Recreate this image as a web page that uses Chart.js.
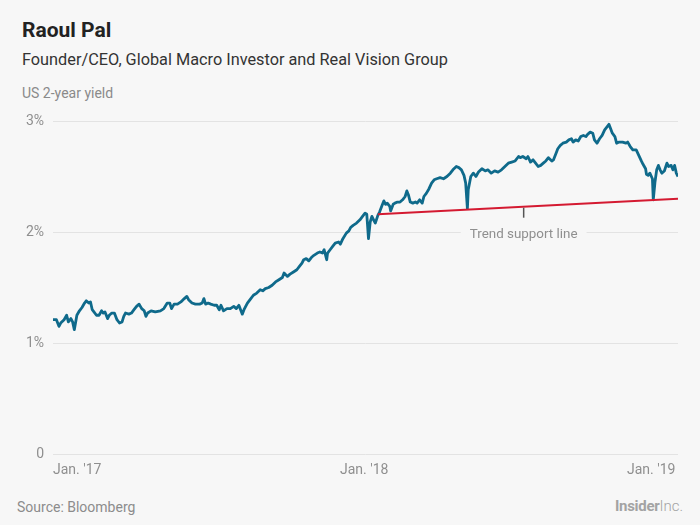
<!DOCTYPE html>
<html>
<head>
<meta charset="utf-8">
<script src="https://cdn.jsdelivr.net/npm/chart.js@4.4.1/dist/chart.umd.min.js"></script>
<style>
  html, body { margin: 0; padding: 0; }
  body {
    width: 700px; height: 525px; overflow: hidden;
    background: #f7f7f7; position: relative;
    font-family: Roboto, "Noto Sans", sans-serif;
  }
  .txt { position: absolute; white-space: nowrap; }
  #title    { left: 22px; top: 20px; font-size: 21px; line-height: 21px; font-weight: 700; color: #222; }
  #subtitle { left: 22px; top: 51px; font-size: 16.3px; line-height: 17px; color: #333; }
  #unit     { left: 22px; top: 86px; font-size: 14px; line-height: 14px; color: #8a8a8a; }
  #source   { left: 17px; top: 500px; font-size: 14px; line-height: 14px; color: #8c8c8c; }
  #brand    { right: 17px; top: 499px; font-size: 15px; line-height: 15px; color: #a3a3a3; }
  #brand b  { font-weight: 700; letter-spacing: -0.3px; }
  #brand span { font-weight: 300; }
  #wrap { position: absolute; left: 0; top: 0; width: 700px; height: 525px; }
</style>
</head>
<body>
<div class="txt" id="title">Raoul Pal</div>
<div class="txt" id="subtitle">Founder/CEO, Global Macro Investor and Real Vision Group</div>
<div class="txt" id="unit">US 2-year yield</div>
<div class="txt" id="source">Source: Bloomberg</div>
<div class="txt" id="brand"><b>Insider</b><span>Inc.</span></div>
<div id="wrap"><canvas id="chart"></canvas></div>

<script>
// ── data: days since Jan. 1 2017, US 2-year yield (%) ─────────────
const DAYS = [
  0, 4, 7, 9, 13, 16, 18, 21, 23, 25, 28, 31, 34, 37, 39, 42, 44, 46, 48, 51,
  54, 57, 59, 61, 64, 66, 69, 72, 75, 78, 81, 83, 85, 89, 92, 95, 98, 101, 104, 107,
  109, 111, 115, 120, 126, 130, 134, 137, 139, 142, 146, 150, 154, 157, 159, 163, 167, 172, 175, 177,
  179, 182, 185, 189, 192, 195, 197, 200, 204, 208, 212, 215, 218, 220, 222, 224, 228, 232, 235, 239,
  243, 246, 249, 253, 257, 261, 265, 269, 271, 275, 278, 282, 286, 289, 292, 294, 297, 300, 303, 306,
  310, 313, 316, 318, 321, 322, 325, 328, 331, 335, 337, 340, 344, 347, 349, 352, 356, 360, 363, 366,
  368, 370, 372, 374, 376, 378, 381, 383, 386, 388, 390, 392, 395, 396, 399, 401, 404, 407, 410, 413,
  415, 417, 419, 422, 425, 427, 430, 433, 435, 438, 441, 444, 447, 450, 454, 458, 462, 466, 469, 473,
  476, 479, 482, 484, 486, 487, 490, 493, 496, 499, 503, 507, 510, 514, 518, 522, 526, 530, 534, 538,
  542, 546, 548, 551, 555, 557, 560, 563, 566, 569, 572, 575, 578, 581, 585, 587, 590, 592, 595, 598,
  602, 605, 608, 610, 613, 616, 619, 622, 625, 627, 630, 633, 635, 638, 641, 644, 647, 650, 652, 654,
  656, 659, 661, 664, 668, 672, 674, 677, 680, 684, 687, 690, 692, 695, 696, 698, 700, 703, 704, 706,
  708, 710, 712, 714, 717, 720, 722, 725, 727, 729, 731, 733
];
const YIELD = [
  1.21, 1.21, 1.15, 1.18, 1.21, 1.25, 1.19, 1.22, 1.19, 1.12, 1.25, 1.29, 1.32, 1.36, 1.38, 1.36, 1.37, 1.30, 1.28, 1.25,
  1.25, 1.29, 1.27, 1.28, 1.22, 1.25, 1.27, 1.27, 1.21, 1.18, 1.19, 1.24, 1.27, 1.26, 1.27, 1.30, 1.33, 1.35, 1.31, 1.29,
  1.24, 1.27, 1.29, 1.28, 1.29, 1.31, 1.36, 1.36, 1.31, 1.35, 1.35, 1.37, 1.40, 1.42, 1.39, 1.36, 1.35, 1.35, 1.36, 1.40,
  1.35, 1.36, 1.35, 1.34, 1.34, 1.30, 1.34, 1.29, 1.31, 1.31, 1.33, 1.31, 1.34, 1.30, 1.26, 1.30, 1.36, 1.40, 1.43, 1.45,
  1.48, 1.47, 1.49, 1.50, 1.52, 1.55, 1.57, 1.59, 1.63, 1.60, 1.62, 1.64, 1.66, 1.69, 1.72, 1.75, 1.76, 1.74, 1.77, 1.79,
  1.81, 1.82, 1.81, 1.84, 1.75, 1.81, 1.84, 1.87, 1.90, 1.91, 1.89, 1.94, 1.99, 2.01, 2.04, 2.06, 2.08, 2.11, 2.14, 2.17,
  2.16, 1.94, 2.09, 2.14, 2.11, 2.08, 2.15, 2.18, 2.24, 2.28, 2.25, 2.26, 2.23, 2.19, 2.25, 2.26, 2.27, 2.27, 2.29, 2.32,
  2.37, 2.33, 2.27, 2.26, 2.27, 2.26, 2.29, 2.26, 2.32, 2.35, 2.39, 2.44, 2.47, 2.48, 2.49, 2.48, 2.50, 2.53, 2.56, 2.59,
  2.58, 2.56, 2.51, 2.44, 2.21, 2.38, 2.50, 2.53, 2.50, 2.54, 2.57, 2.55, 2.56, 2.53, 2.55, 2.54, 2.56, 2.59, 2.62, 2.63,
  2.64, 2.68, 2.67, 2.68, 2.66, 2.68, 2.63, 2.65, 2.62, 2.59, 2.60, 2.62, 2.64, 2.67, 2.64, 2.65, 2.71, 2.75, 2.78, 2.80,
  2.81, 2.83, 2.84, 2.81, 2.83, 2.82, 2.86, 2.87, 2.86, 2.88, 2.90, 2.89, 2.83, 2.80, 2.84, 2.87, 2.92, 2.95, 2.97, 2.93,
  2.89, 2.86, 2.80, 2.81, 2.81, 2.80, 2.81, 2.77, 2.74, 2.74, 2.69, 2.64, 2.61, 2.57, 2.52, 2.51, 2.53, 2.48, 2.29, 2.45,
  2.56, 2.60, 2.56, 2.53, 2.55, 2.62, 2.59, 2.60, 2.56, 2.60, 2.53, 2.50
];

// trend support line (two anchor points)
const TREND_DAYS   = [381, 733];
const TREND_VALUES = [2.16, 2.30];
const TREND_LABEL  = 'Trend support line';
const TREND_LABEL_DAY = 552;

// axis ticks
const X_TICK_DAYS   = [0, 365, 730];
const X_TICK_LABELS = ["Jan. '17", "Jan. '18", "Jan. '19"];
const Y_TICKS       = [0, 1, 2, 3];
const Y_TICK_LABELS = ['0', '1%', '2%', '3%'];

const BG = '#f7f7f7';
const TICK_COLOR = '#8f8f8f';

// ── annotation: small tick under the red line + label ────────────
const trendLabel = {
  id: 'trendLabel',
  afterDatasetsDraw(chart) {
    const { ctx, scales: { x, y } } = chart;
    const t = (TREND_LABEL_DAY - TREND_DAYS[0]) / (TREND_DAYS[1] - TREND_DAYS[0]);
    const v = TREND_VALUES[0] + t * (TREND_VALUES[1] - TREND_VALUES[0]);
    const px = x.getPixelForValue(TREND_LABEL_DAY);
    const py = y.getPixelForValue(v);

    ctx.save();
    ctx.strokeStyle = '#555';
    ctx.lineWidth = 1.5;
    ctx.beginPath();
    ctx.moveTo(px, py + 1);
    ctx.lineTo(px, py + 11);
    ctx.stroke();

    ctx.font = '13.4px Roboto, "Noto Sans", sans-serif';
    const w = ctx.measureText(TREND_LABEL).width;
    const ty = py + 28;
    ctx.fillStyle = BG;
    ctx.fillRect(px - w / 2 - 9, ty - 9, w + 18, 18);
    ctx.fillStyle = TICK_COLOR;
    ctx.textAlign = 'center';
    ctx.textBaseline = 'middle';
    ctx.fillText(TREND_LABEL, px, ty);
    ctx.restore();
  },
};

const ctx = document.getElementById('chart').getContext('2d');
new Chart(ctx, {
  type: 'line',
  data: {
    datasets: [
      {
        label: 'US 2-year yield',
        data: DAYS.map((d, i) => ({ x: d, y: YIELD[i] })),
        borderColor: '#0f6a8b',
        borderWidth: 2.8,
        borderJoinStyle: 'round',
        pointRadius: 0,
        tension: 0,
        order: 2,
      },
      {
        label: 'Trend support line',
        data: TREND_DAYS.map((d, i) => ({ x: d, y: TREND_VALUES[i] })),
        borderColor: '#d41a31',
        borderWidth: 2,
        pointRadius: 0,
        tension: 0,
        order: 1,
      },
    ],
  },
  options: {
    responsive: true,
    maintainAspectRatio: false,
    animation: false,
    events: [],
    layout: { padding: { left: 0, right: 22, top: 121, bottom: 40 } },
    plugins: {
      legend: { display: false },
      tooltip: { enabled: false },
    },
    scales: {
      x: {
        type: 'linear',
        min: 0,
        max: 733,
        afterBuildTicks: s => { s.ticks = X_TICK_DAYS.map(v => ({ value: v })); },
        afterFit: s => { s.height = 31; },
        grid: { display: false, drawTicks: false },
        border: { display: false },
        ticks: {
          align: 'inner',
          padding: 8,
          color: TICK_COLOR,
          font: { family: 'Roboto', size: 14 },
          maxRotation: 0,
          callback: (v, i) => X_TICK_LABELS[i],
        },
      },
      y: {
        min: 0,
        max: 3,
        afterBuildTicks: s => { s.ticks = Y_TICKS.map(v => ({ value: v })); },
        afterFit: s => { s.width = 53; },
        grid: { color: '#e3e3e3', lineWidth: 1, drawTicks: false },
        border: { display: false },
        ticks: {
          padding: 9,
          color: TICK_COLOR,
          font: { family: 'Roboto', size: 14 },
          callback: (v, i) => Y_TICK_LABELS[i],
        },
      },
    },
  },
  plugins: [trendLabel],
});
</script>
</body>
</html>
